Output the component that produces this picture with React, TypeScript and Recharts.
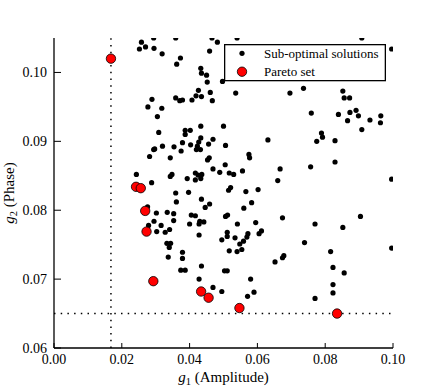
import React from 'react';
import { ScatterChart, Scatter, XAxis, YAxis, ReferenceLine, Legend } from 'recharts';

const FONT = '"Liberation Serif", "Times New Roman", serif';

const X_DOMAIN = [0, 0.1];
const Y_DOMAIN = [0.06, 0.105];
const X_TICKS = [0, 0.02, 0.04, 0.06, 0.08, 0.1];
const Y_TICKS = [0.06, 0.07, 0.08, 0.09, 0.1];

// sub-optimal solutions (g1 = amplitude, g2 = phase)
const SUB_G1 = [
  0.0258, 0.0252, 0.0270, 0.0295, 0.0294, 0.0319, 0.0373, 0.0362, 0.0359, 0.0459,
  0.0466, 0.0482, 0.0433, 0.0435, 0.0450, 0.0452, 0.0497, 0.0426, 0.0419, 0.0435,
  0.0461, 0.0407, 0.0467, 0.0359, 0.0371, 0.0379, 0.0289, 0.0277, 0.0318, 0.0305,
  0.0500, 0.0433, 0.0309, 0.0387, 0.0387, 0.0402, 0.0379, 0.0433, 0.0427, 0.0423,
  0.0420, 0.0432, 0.0456, 0.0469, 0.0403, 0.0506, 0.0354, 0.0375, 0.0320, 0.0294,
  0.0297, 0.0282, 0.0343, 0.0458, 0.0453, 0.0505, 0.0469, 0.0489, 0.0517, 0.0530,
  0.0417, 0.0425, 0.0436, 0.0417, 0.0433, 0.0393, 0.0348, 0.0343, 0.0288, 0.0359,
  0.0397, 0.0521, 0.0515, 0.0243, 0.0540, 0.0536, 0.0696, 0.0736, 0.0759, 0.0631,
  0.0575, 0.0577, 0.0556, 0.0667, 0.0757, 0.0660, 0.0566, 0.0602, 0.0908, 0.0996,
  0.0852, 0.0856, 0.0872, 0.0839, 0.0873, 0.0891, 0.0866, 0.0898, 0.0932, 0.0964,
  0.0963, 0.0908, 0.0789, 0.0792, 0.0775, 0.0829, 0.0829, 0.0996, 0.0361, 0.0435,
  0.0459, 0.0446, 0.0276, 0.0302, 0.0334, 0.0353, 0.0295, 0.0316, 0.0353, 0.0405,
  0.0417, 0.0430, 0.0442, 0.0428, 0.0400, 0.0279, 0.0303, 0.0328, 0.0341, 0.0428,
  0.0512, 0.0506, 0.0511, 0.0511, 0.0495, 0.0517, 0.0333, 0.0344, 0.0340, 0.0337,
  0.0379, 0.0379, 0.0374, 0.0387, 0.0435, 0.0503, 0.0511, 0.0428, 0.0469, 0.0495,
  0.0583, 0.0560, 0.0541, 0.0595, 0.0674, 0.0770, 0.0534, 0.0572, 0.0569, 0.0559,
  0.0548, 0.0605, 0.0612, 0.0540, 0.0554, 0.0739, 0.0674, 0.0678, 0.0652, 0.0580,
  0.0590, 0.0571, 0.0770, 0.0852, 0.0904, 0.0816, 0.0823, 0.0856, 0.0823, 0.0823,
  0.0996,
];
const SUB_G2 = [
  0.1044, 0.1034, 0.1037, 0.1035, 0.1050, 0.1027, 0.1021, 0.1012, 0.1050, 0.1031,
  0.1050, 0.1044, 0.1006, 0.0999, 0.0996, 0.0986, 0.0987, 0.0974, 0.0966, 0.0965,
  0.0971, 0.0960, 0.0959, 0.0963, 0.0959, 0.0960, 0.0961, 0.0950, 0.0948, 0.0936,
  0.0922, 0.0922, 0.0913, 0.0916, 0.0910, 0.0916, 0.0898, 0.0905, 0.0899, 0.0893,
  0.0888, 0.0888, 0.0896, 0.0903, 0.0895, 0.0894, 0.0892, 0.0886, 0.0893, 0.0888,
  0.0889, 0.0878, 0.0876, 0.0876, 0.0873, 0.0866, 0.0860, 0.0855, 0.0854, 0.0852,
  0.0854, 0.0851, 0.0852, 0.0844, 0.0846, 0.0846, 0.0852, 0.0849, 0.0840, 0.0825,
  0.0826, 0.0833, 0.0829, 0.0852, 0.1050, 0.0970, 0.0970, 0.0977, 0.0941, 0.0902,
  0.0881, 0.0876, 0.0857, 0.0860, 0.0863, 0.0843, 0.0827, 0.0830, 0.1050, 0.1034,
  0.0973, 0.0963, 0.0963, 0.0939, 0.0942, 0.0945, 0.0930, 0.0937, 0.0931, 0.0937,
  0.0927, 0.0917, 0.0912, 0.0906, 0.0900, 0.0901, 0.0870, 0.0845, 0.0812, 0.0816,
  0.0809, 0.0804, 0.0805, 0.0796, 0.0797, 0.0795, 0.0784, 0.0778, 0.0785, 0.0793,
  0.0792, 0.0784, 0.0783, 0.0780, 0.0780, 0.0778, 0.0769, 0.0768, 0.0772, 0.0764,
  0.0793, 0.0791, 0.0768, 0.0762, 0.0757, 0.0741, 0.0752, 0.0752, 0.0746, 0.0732,
  0.0739, 0.0730, 0.0713, 0.0713, 0.0719, 0.0712, 0.0712, 0.0700, 0.0688, 0.0682,
  0.0811, 0.0803, 0.0780, 0.0782, 0.0789, 0.0780, 0.0760, 0.0766, 0.0761, 0.0755,
  0.0751, 0.0766, 0.0770, 0.0740, 0.0743, 0.0753, 0.0731, 0.0734, 0.0725, 0.0700,
  0.0681, 0.0675, 0.0672, 0.0775, 0.0791, 0.0740, 0.0717, 0.0709, 0.0692, 0.0680,
  0.0745,
];

// Pareto set
const PARETO_G1 = [0.0168, 0.0242, 0.0256, 0.0269, 0.0273, 0.0293, 0.0434, 0.0456, 0.0547, 0.0835];
const PARETO_G2 = [0.1020, 0.0834, 0.0832, 0.0799, 0.0769, 0.0697, 0.0682, 0.0673, 0.0658, 0.0650];

// dotted thresholds
const G1_LIMIT = 0.0168;
const G2_LIMIT = 0.065;

const subOptimal = SUB_G1.map((g1, i) => ({ g1, g2: SUB_G2[i] }));
const paretoSet = PARETO_G1.map((g1, i) => ({ g1, g2: PARETO_G2[i] }));

const fmt = (v: number) => v.toFixed(2);

const BottomTick = ({ x, y, payload }: any) => (
  <g>
    <line x1={x} x2={x} y1={y} y2={y - 5} stroke="#000" strokeWidth={1} />
    <text x={x} y={y + 16} textAnchor="middle" fontSize={14} fontFamily={FONT} fill="#000">
      {fmt(payload.value)}
    </text>
  </g>
);

const TopTick = ({ x, y }: any) => (
  <line x1={x} x2={x} y1={y} y2={y + 5} stroke="#000" strokeWidth={1} />
);

const LeftTick = ({ x, y, payload }: any) => (
  <g>
    <line x1={x} x2={x + 7} y1={y} y2={y} stroke="#000" strokeWidth={1} />
    <text x={x - 7} y={y} dy="0.35em" textAnchor="end" fontSize={14} fontFamily={FONT} fill="#000">
      {fmt(payload.value)}
    </text>
  </g>
);

const RightTick = ({ x, y }: any) => (
  <line x1={x} x2={x - 7} y1={y} y2={y} stroke="#000" strokeWidth={1} />
);

const XTitle = ({ viewBox }: any) => (
  <text
    x={viewBox.x + viewBox.width / 2}
    y={viewBox.y + 34}
    textAnchor="middle"
    fontSize={15}
    fontFamily={FONT}
    fill="#000"
  >
    <tspan fontStyle="italic">g</tspan>
    <tspan fontSize={10.5} dy={3}>1</tspan>
    <tspan dy={-3}> (Amplitude)</tspan>
  </text>
);

const YTitle = ({ viewBox }: any) => {
  const cx = 13.5;
  const cy = viewBox.y + viewBox.height / 2;
  return (
    <text
      x={cx}
      y={cy}
      transform={`rotate(-90, ${cx}, ${cy})`}
      textAnchor="middle"
      fontSize={15}
      fontFamily={FONT}
      fill="#000"
    >
      <tspan fontStyle="italic">g</tspan>
      <tspan fontSize={10.5} dy={3}>2</tspan>
      <tspan dy={-3}> (Phase)</tspan>
    </text>
  );
};

const LegendBox = () => (
  <svg width={162} height={38} style={{ display: 'block' }}>
    <rect x={0.65} y={0.65} width={160.7} height={36} fill="#fff" stroke="#000" strokeWidth={1.3} />
    <circle cx={18} cy={9.3} r={2.6} fill="#000" />
    <text x={40} y={13.5} fontSize={13} fontFamily={FONT} fill="#000">Sub-optimal solutions</text>
    <circle cx={18} cy={27.7} r={4.7} fill="#ff0000" stroke="#000" strokeWidth={0.8} />
    <text x={40} y={32} fontSize={13} fontFamily={FONT} fill="#000">Pareto set</text>
  </svg>
);

const frame = { stroke: '#000', strokeWidth: 1.3 };

export default function App() {
  return (
    <div style={{ position: 'absolute', left: 0, top: 0, width: 436, height: 388, background: '#fff' }}>
      <ScatterChart width={436} height={388} margin={{ top: 38, right: 43, bottom: 0, left: 0 }}>
        <XAxis
          dataKey="g1"
          type="number"
          domain={X_DOMAIN}
          ticks={X_TICKS}
          interval={0}
          allowDataOverflow
          height={40}
          tickSize={0}
          tickMargin={0}
          tickLine={false}
          axisLine={frame}
          tick={<BottomTick />}
          label={(p: any) => <XTitle {...p} />}
        />
        <XAxis
          xAxisId="top"
          orientation="top"
          type="number"
          domain={X_DOMAIN}
          ticks={X_TICKS}
          interval={0}
          height={0}
          tickSize={0}
          tickMargin={0}
          tickLine={false}
          axisLine={frame}
          tick={<TopTick />}
        />
        <YAxis
          dataKey="g2"
          type="number"
          domain={Y_DOMAIN}
          ticks={Y_TICKS}
          interval={0}
          allowDataOverflow
          width={54}
          tickSize={0}
          tickMargin={0}
          tickLine={false}
          axisLine={frame}
          tick={<LeftTick />}
          label={(p: any) => <YTitle {...p} />}
        />
        <YAxis
          yAxisId="right"
          orientation="right"
          type="number"
          domain={Y_DOMAIN}
          ticks={Y_TICKS}
          interval={0}
          width={0}
          tickSize={0}
          tickMargin={0}
          tickLine={false}
          axisLine={frame}
          tick={<RightTick />}
        />
        <ReferenceLine x={G1_LIMIT} stroke="#000" strokeWidth={1.5} strokeDasharray="1.5 5.2" />
        <ReferenceLine y={G2_LIMIT} stroke="#000" strokeWidth={1.5} strokeDasharray="1.5 5.2" />
        <Scatter
          name="Sub-optimal solutions"
          data={subOptimal}
          isAnimationActive={false}
          shape={(p: any) => <circle cx={p.cx} cy={p.cy} r={2.6} fill="#000" />}
        />
        <Scatter
          name="Pareto set"
          data={paretoSet}
          isAnimationActive={false}
          shape={(p: any) => (
            <circle cx={p.cx} cy={p.cy} r={4.7} fill="#ff0000" stroke="#000" strokeWidth={0.8} />
          )}
        />
        <Legend
          layout="horizontal"
          verticalAlign="middle"
          align="center"
          wrapperStyle={{ position: 'absolute', left: 224, top: 44, width: 162, height: 38 }}
          content={() => <LegendBox />}
        />
      </ScatterChart>
    </div>
  );
}
